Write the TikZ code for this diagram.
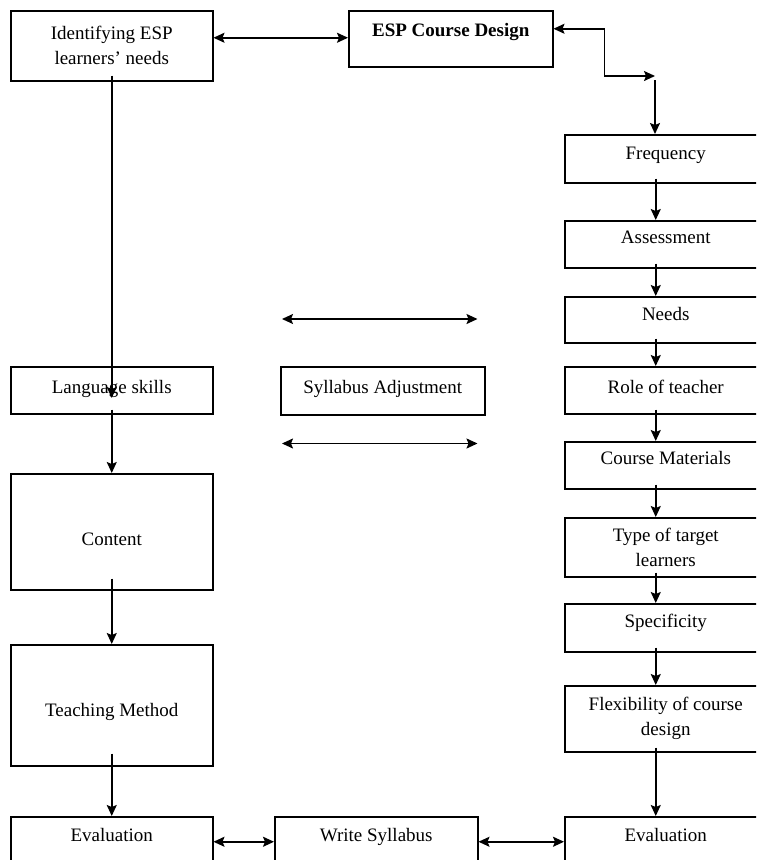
\documentclass[tikz,border=0pt]{standalone}
\usepackage{fontspec}
\setmainfont{Liberation Serif}
\usetikzlibrary{arrows.meta, positioning}

\tikzset{
  box/.style={draw, line width=1.5pt, inner sep=0pt, anchor=north west,
              minimum width=202pt, align=center,
              font=\fontsize{19}{25}\selectfont},
  tb/.style 2 args={text height=#1pt, text depth=#2pt},
  link/.style={line width=1.5pt, -{Stealth[length=11pt, width=10pt, inset=2pt]}},
  twoway/.style={line width=1.5pt,
                 {Stealth[length=11pt, width=10pt, inset=2pt]}-{Stealth[length=11pt, width=10pt, inset=2pt]}},
}

\begin{document}
\begin{tikzpicture}[x=1pt, y=-1pt]
  \useasboundingbox (0,0) rectangle (756,860);
  \clip (0,0) rectangle (756,860);

  % Top row
  \node[box, minimum height=70pt] (ident) at (10,10) {Identifying ESP\\learners’ needs};
  \node[box, minimum width=204pt, minimum height=56pt, tb={0}{4},
        font=\fontsize{19}{25}\selectfont\bfseries] (esp) at (348,10) {ESP Course Design};

  % Left column
  \node[box, minimum height=47pt, tb={7}{0}] (lang) at (10,366) {Language skills};
  \node[box, minimum height=116pt, tb={28}{0}] (content) at (10,473) {Content};
  \node[box, minimum height=121pt, tb={23}{0}] (teach) at (10,644) {Teaching Method};
  \node[box, minimum height=56pt, tb={0}{6}] (evalL) at (10,816) {Evaluation};

  % Middle
  \node[box, minimum width=204pt, minimum height=48pt, tb={6}{0}] (syl) at (280,366) {Syllabus Adjustment};
  \node[box, minimum width=203pt, minimum height=56pt, tb={0}{6}] (write) at (274,816) {Write Syllabus};

  % Right column
  \node[box, minimum height=48pt, tb={2}{0}] (freq) at (564,134) {Frequency};
  \node[box, minimum height=47pt, tb={0}{1}] (assess) at (564,220) {Assessment};
  \node[box, minimum height=46pt, tb={2}{0}] (needs) at (564,296) {Needs};
  \node[box, minimum height=47pt, tb={7}{0}] (role) at (564,366) {Role of teacher};
  \node[box, minimum height=47pt, tb={0}{1}] (mats) at (564,441) {Course Materials};
  \node[box, minimum height=59pt] (target) at (564,517) {Type of target\\learners};
  \node[box, minimum height=48pt, tb={0}{0}] (spec) at (564,603) {Specificity};
  \node[box, minimum height=66pt] (flex) at (564,685) {Flexibility of course\\design};
  \node[box, minimum height=56pt, tb={0}{6}] (evalR) at (564,816) {Evaluation};

  % Links top
  \draw[twoway] ([yshift=8pt]ident.east) -- ([yshift=8pt]ident.east -| esp.west);
  \coordinate (bend) at (655,76);
  \draw[twoway] ([yshift=10pt]esp.east) -- ++(51,0) |- (bend);
  \draw[link] ([yshift=-4pt]bend) -- (bend |- freq.north);

  % Right chain
  \foreach \a/\b in {freq/assess, assess/needs, needs/role, role/mats,
                     mats/target, target/spec, spec/flex, flex/evalR}
    \draw[link] ([xshift=-10pt, yshift=5pt]\a.south) -- ([xshift=-10pt]\b.north);

  % Left chain
  \draw[link] ([yshift=6pt]ident.south) -- ([yshift=-32pt]lang.north);
  \draw[link] ([yshift=5pt]lang.south) -- (content.north);
  \draw[link] ([yshift=12pt]content.south) -- (teach.north);
  \draw[link] ([yshift=13pt]teach.south) -- (evalL.north);

  % Syllabus adjustment arrows
  \coordinate (a1) at ([xshift=2pt, yshift=47pt]syl.north west);
  \coordinate (a2) at ([xshift=-8pt, yshift=47pt]syl.north east);
  \coordinate (b1) at ([xshift=2pt, yshift=-28pt]syl.south west);
  \coordinate (b2) at ([xshift=-8pt, yshift=-28pt]syl.south east);
  \draw[twoway] (a1) -- (a2);
  \draw[twoway] (b1) -- (b2);

  % Bottom row
  \draw[twoway] ([yshift=3pt]evalL.east) -- ([yshift=3pt]write.west);
  \draw[twoway] ([yshift=3pt]write.east) -- ([yshift=3pt]evalR.west);
\end{tikzpicture}
\end{document}
